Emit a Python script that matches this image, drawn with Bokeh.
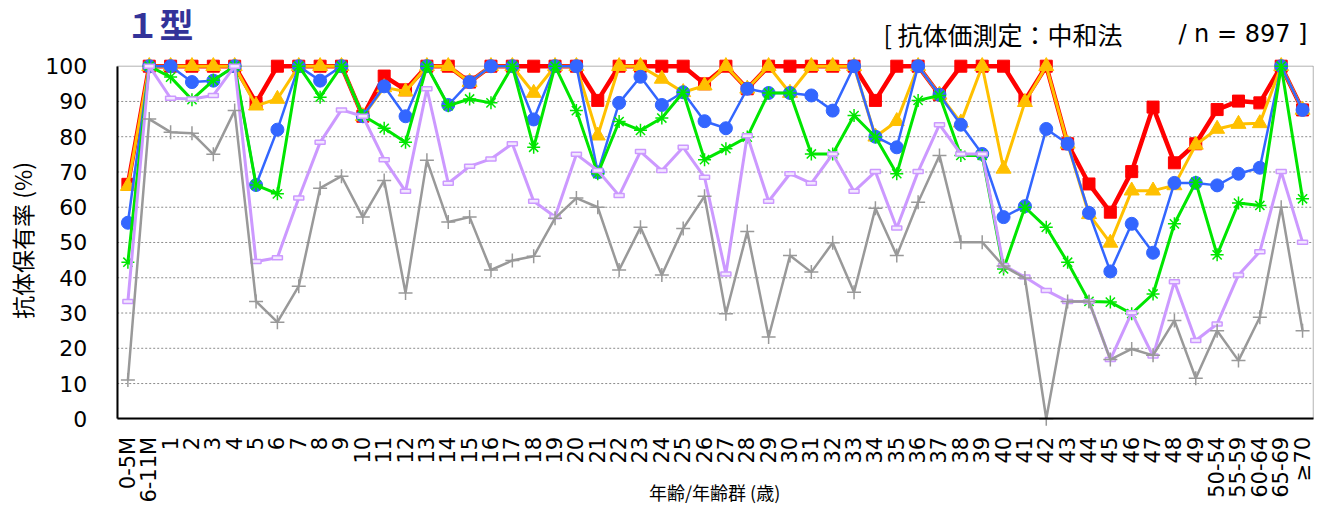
import math
from bokeh.plotting import figure
from bokeh.models import Range1d, FixedTicker, Label, BoxAnnotation
from bokeh.embed import file_html
from bokeh.resources import INLINE

cats = ["0-5M", "6-11M"] + [str(a) for a in range(1, 50)] + ["50-54", "55-59", "60-64", "65-69", "≥70"]

red = [66.5, 100, 100, 100, 100, 100, 89.6, 100, 100, 100, 100, 85.8, 97.2, 93.3, 100, 100,
       95.5, 100, 100, 100, 100, 100, 90.3, 100, 100, 100, 100, 95, 100, 93.6, 100, 100,
       100, 100, 100, 90.3, 100, 100, 91.9, 100, 100, 100, 90.3, 100, 78, 66.6, 58.6, 70.1,
       88.4, 72.6, 78, 87.7, 90.1, 89.6, 100, 87.6]
orange = [66, 100, 100, 100, 100, 100, 88.8, 90.7, 100, 100, 100, 85.8, 94, 92.8, 100, 100,
          95.5, 100, 100, 92.4, 100, 100, 80.3, 100, 100, 96.4, 92.6, 94.5, 100, 93.6, 100, 92.4,
          100, 100, 100, 80, 84.4, 100, 91.9, 84, 100, 70.9, 89.8, 100, 78, 58, 49.9, 64.7,
          64.7, 66.2, 77.7, 82.2, 83.6, 83.8, 100, 87.6]
blue = [55.6, 100, 100, 95.5, 95.9, 100, 66.3, 82, 100, 95.9, 100, 85.8, 94.3, 85.8, 100, 89,
        95.5, 100, 100, 84.9, 100, 100, 69.9, 89.6, 97, 89, 92.6, 84.4, 82.4, 93.6, 92.4, 92.4,
        91.7, 87.4, 100, 80, 77, 100, 91.9, 83.4, 75.1, 57.2, 60.3, 82.2, 78, 58.4, 41.8, 55.3,
        47.1, 66.9, 66.9, 66.2, 69.5, 71.2, 100, 87.6]
green = [44.4, 100, 96.9, 90.5, 96, 100, 66.3, 63.8, 100, 91.2, 100, 86, 82.4, 78.4, 100, 88.8,
         90.7, 89.6, 100, 77, 100, 87.4, 69.5, 84.3, 81.8, 85.3, 92.6, 73.5, 76.6, 79.9, 92.4, 92.4,
         75.1, 75.1, 86, 79.9, 69.5, 90.3, 91.7, 74.7, 74.7, 42.5, 60, 54.3, 44.4, 33.3, 33.1, 29.8,
         35.4, 55.3, 67.1, 46.5, 61.2, 60.5, 100, 62.4]
lavender = [33.3, 100, 90.9, 90.7, 91.7, 100, 44.6, 45.7, 62.6, 78.4, 87.6, 85.8, 73.5, 64.5, 93.6, 66.8,
            71.6, 73.7, 78, 61.7, 57.3, 75, 70.4, 63.3, 75.8, 70.4, 77, 68.5, 41.1, 80.3, 61.7, 69.5,
            66.8, 75.1, 64.5, 70.1, 54.1, 70.1, 83.4, 75.1, 75.1, 43.5, 40.2, 36.4, 33.3, 33.3, 16.8, 30.1,
            17.8, 38.9, 22.2, 26.9, 40.8, 47.4, 70.1, 50.1]
gray = [11, 85, 81.3, 81, 75, 87.4, 33.3, 27.4, 37.6, 65.4, 68.8, 57.2, 67.6, 35.7, 73.3, 55.8,
        57.2, 42.2, 44.9, 46.1, 56.9, 62.6, 60, 42.2, 54.3, 40.8, 54, 63.1, 29.8, 53.1, 23.2, 46.3,
        41.6, 49.9, 35.9, 59.7, 46.3, 61.4, 74.7, 50.1, 50.1, 43.3, 39.9, 0, 33.3, 33.3, 16.8, 19.8,
        18, 27.9, 11.5, 25, 16.5, 28.8, 60, 25]

y_ticks = list(range(0, 101, 10))
title_text = "１型"
subtitle_left = "[ 抗体価測定：中和法"
subtitle_right = "/ n = 897 ]"
y_label = "抗体保有率 (%)"
x_label = "年齢/年齢群 (歳)"

CJK = "Noto Sans CJK JP"
LAT = "DejaVu Sans"

n = len(cats)
xs = list(range(n))
x_lo, x_hi = -0.5, n - 0.5
y_lo, y_hi = y_ticks[0], y_ticks[-1]

p = figure(width=1320, height=506, x_range=Range1d(-5.965, 55.84), y_range=Range1d(-24.87, 118.63),
           output_backend="svg", toolbar_location=None, min_border=0,
           min_border_left=0, min_border_right=0, min_border_top=0, min_border_bottom=0)
p.outline_line_color = None
p.background_fill_color = "white"
p.border_fill_color = "white"

# x axis, fixed at y = 0
xa = p.xaxis[0]
xa.fixed_location = y_lo
xa.bounds = (x_lo, x_hi)
xa.ticker = FixedTicker(ticks=xs)
xa.major_label_overrides = {i: c for i, c in enumerate(cats)}
xa.major_label_orientation = math.pi / 2
xa.major_label_text_font = LAT
xa.major_label_text_font_size = "21px"
xa.major_label_text_color = "black"
xa.major_tick_line_color = None
xa.minor_tick_line_color = None
xa.major_tick_out = 0
xa.major_tick_in = 0
xa.major_label_standoff = 18
xa.axis_line_color = "black"
xa.axis_line_width = 2

# y axis, fixed at left edge of plot box
ya = p.yaxis[0]
ya.fixed_location = x_lo
ya.bounds = (y_lo, y_hi)
ya.ticker = FixedTicker(ticks=y_ticks)
ya.major_label_text_font = LAT
ya.major_label_text_font_size = "22px"
ya.major_label_text_color = "black"
ya.major_tick_line_color = None
ya.minor_tick_line_color = None
ya.major_tick_out = 0
ya.major_tick_in = 0
ya.major_label_standoff = 30
ya.axis_line_color = "black"
ya.axis_line_width = 2

p.xgrid.visible = False
p.ygrid.visible = False

# dotted horizontal grid lines inside the plot box
grid_vals = y_ticks[1:-1]
p.segment(x0=[x_lo] * len(grid_vals), y0=grid_vals, x1=[x_hi] * len(grid_vals), y1=grid_vals,
          line_color="#8c8c8c", line_dash="2 2", line_width=1)

# plot box
p.add_layout(BoxAnnotation(left=x_lo, right=x_hi, bottom=y_lo, top=y_hi, fill_alpha=0,
                           line_color="black", line_width=1, level="underlay"))

# series
p.line(xs, red, line_color="#FF0000", line_width=4.5)
p.scatter(xs, red, marker="square", size=12, fill_color="#FF0000", line_color="#FF0000")

p.line(xs, orange, line_color="#FFC000", line_width=3)
p.scatter(xs, orange, marker="triangle", size=15, fill_color="#FFC000", line_color="#FFC000")

p.line(xs, blue, line_color="#3366FF", line_width=2.5)
p.scatter(xs, blue, marker="circle", size=13, fill_color="#3366FF", line_color="#3366FF")

p.line(xs, green, line_color="#00E600", line_width=3)
p.scatter(xs, green, marker="asterisk", size=13, line_color="#00E600", line_width=1.5)

p.line(xs, lavender, line_color="#CC99FF", line_width=3)
p.rect(xs, lavender, width=10, height=4, width_units="screen", height_units="screen",
       fill_color="#F3E8FF", line_color="#CC99FF", line_width=1.5)

p.line(xs, gray, line_color="#999999", line_width=2.5)
p.scatter(xs, gray, marker="cross", size=14, line_color="#999999", line_width=1.5)

# texts
p.add_layout(Label(x=-0.11, y=112.1, text=title_text, text_font=CJK, text_font_size="34px",
                   text_font_style="bold", text_color="#333399", text_baseline="middle"))
p.add_layout(Label(x=35.38, y=109.27, text=subtitle_left, text_font=CJK, text_font_size="25px",
                   text_color="black", text_baseline="middle", text_align="left"))
p.add_layout(Label(x=55.23, y=109.27, text=subtitle_right, text_font=LAT, text_font_size="24px",
                   text_color="black", text_baseline="middle", text_align="right"))
p.add_layout(Label(x=27.47, y=-20.7, text=x_label, text_font=CJK, text_font_size="18px",
                   text_color="black", text_baseline="middle", text_align="center"))
p.add_layout(Label(x=-4.935, y=50.57, text=y_label, text_font=CJK, text_font_size="23px",
                   text_color="black", text_baseline="middle", text_align="center",
                   angle=math.pi / 2))

open("out.html", "w").write(file_html(p, INLINE))
